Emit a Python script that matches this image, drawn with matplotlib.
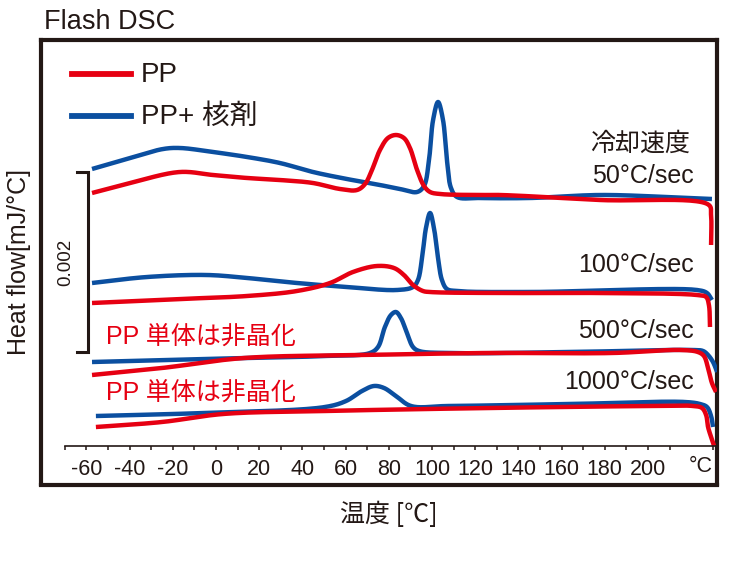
import numpy as np
import matplotlib
matplotlib.use("Agg")
import matplotlib.pyplot as plt
from matplotlib.lines import Line2D

plt.rcParams['font.family'] = ['Liberation Sans', 'Noto Sans CJK JP', 'DejaVu Sans']

RED = '#e60012'
BLUE = '#0b4fa0'
INK = '#231815'

# ---------------- data (temperature °C, signal position; larger value = lower on chart) -------------
b50_t = [-57.4, -39.8, -24.5, -16.7, -1.4, 14.4, 29.6, 44.9, 60.6, 75.9, 85.2, 93.1, 96.3, 98.6,
         100.5, 102.8, 105.1, 106.9, 108.8, 111.6, 122.2, 145.4, 177.8, 208.8, 229.6]
b50_y = [169, 158, 149, 148, 152, 157, 163, 172, 179, 185, 189, 192, 186, 160,
         120, 102, 120, 160, 188, 197, 198, 198, 195, 197, 199]
r50_t = [-57.4, -39.8, -16.7, -1.4, 14.4, 29.6, 44.9, 57.4, 65.3, 69.0, 72.2, 75.9, 79.6, 83.3,
         87.0, 89.8, 93.1, 96.3, 99.1, 103.7, 122.2, 131.5, 177.8, 228.2, 229.2, 229.2]
r50_y = [193, 183, 172, 175, 178, 180, 183, 189, 190, 184, 170, 150, 138, 135,
         138, 148, 170, 186, 192, 194, 195, 195, 200, 205, 215, 245]

b100_t = [-57.4, -31.9, -4.2, 14.4, 37.5, 60.6, 83.8, 91.2, 93.5, 95.4, 97.2, 99.1, 100.9, 102.8,
          104.6, 106.9, 111.6, 145.4, 222.7, 227.3, 229.6]
b100_y = [283, 277, 275, 278, 283, 287, 290, 287, 280, 258, 228, 213, 228, 258,
          280, 289, 291, 292, 290, 293, 300]
r100_t = [-57.4, -16.7, 14.4, 37.5, 52.8, 63.4, 74.5, 82.4, 87.0, 91.2, 95.8, 99.1, 130.1, 176.4,
          222.7, 226.9, 228.2, 228.7]
r100_y = [303, 299, 296, 291, 283, 272, 266, 268, 275, 285, 291, 292, 293, 293,
          295, 297, 305, 327]

b500_t = [-57.4, -6.0, 50.5, 71.3, 75.0, 78.2, 81.0, 83.3, 85.6, 88.4, 91.2, 94.0, 107.4, 164.4,
          220.8, 225.5, 227.8, 230.1, 232.0]
b500_y = [362, 359, 356, 353, 347, 327, 315, 312, 318, 333, 347, 351, 353, 352,
          350, 351, 355, 362, 372]
r500_t = [-57.4, -25.0, 13.0, 69.4, 126.4, 183.3, 215.3, 223.1, 225.9, 227.8, 229.6, 231.5]
r500_y = [375, 368, 358, 355, 353, 353, 350, 352, 356, 368, 383, 392]

b1000_t = [-55.6, -6.0, 50.5, 60.2, 67.6, 73.1, 77.8, 83.3, 90.3, 107.4, 164.4, 217.1, 224.1,
           227.3, 229.2, 230.1]
b1000_y = [416, 413, 407, 401, 391, 386, 388, 396, 406, 406, 404, 402, 404, 407, 416, 427]
r1000_t = [-55.6, -25.0, 3.2, 50.5, 126.4, 202.3, 220.8, 225.0, 226.9, 227.8, 229.2, 230.6]
r1000_y = [427, 422, 414, 411, 408, 406, 406, 408, 415, 427, 437, 446]

major_ticks = [-60, -40, -20, 0, 20, 40, 60, 80, 100, 120, 140, 160, 180, 200]
minor_ticks = [-70, -50, -30, -10, 10, 30, 50, 70, 90, 110, 130, 150, 170, 190, 210, 230]

rate_labels = ['50°C/sec', '100°C/sec', '500°C/sec', '1000°C/sec']
scale_value = '0.002'
scale_span = (172, 352)   # signal positions covered by 0.002 mJ/°C

# ---------------- helpers ----------------
XS = 2.16  # px per °C, used only for smoothing parametrisation


def smooth(t, y, n=30):
    """Centripetal Catmull-Rom through the read points."""
    P = np.column_stack([np.asarray(t, float) * XS, np.asarray(y, float)])
    P = np.vstack([2 * P[0] - P[1], P, 2 * P[-1] - P[-2]])
    out = []
    for i in range(1, len(P) - 2):
        p0, p1, p2, p3 = P[i - 1], P[i], P[i + 1], P[i + 2]
        def tj(ti, a, b):
            d = np.hypot(*(b - a))
            return ti + max(d, 1e-6) ** 0.5
        t0 = 0.0
        t1 = tj(t0, p0, p1)
        t2 = tj(t1, p1, p2)
        t3 = tj(t2, p2, p3)
        tt = np.linspace(t1, t2, n)[:, None]
        A1 = (t1 - tt) / (t1 - t0) * p0 + (tt - t0) / (t1 - t0) * p1
        A2 = (t2 - tt) / (t2 - t1) * p1 + (tt - t1) / (t2 - t1) * p2
        A3 = (t3 - tt) / (t3 - t2) * p2 + (tt - t2) / (t3 - t2) * p3
        B1 = (t2 - tt) / (t2 - t0) * A1 + (tt - t0) / (t2 - t0) * A2
        B2 = (t3 - tt) / (t3 - t1) * A2 + (tt - t1) / (t3 - t1) * A3
        C = (t2 - tt) / (t2 - t1) * B1 + (tt - t1) / (t2 - t1) * B2
        out.append(C if i == 1 else C[1:])
    C = np.vstack(out)
    return C[:, 0] / XS, C[:, 1]


W, H = 729, 570
fig = plt.figure(figsize=(W / 100, H / 100), dpi=100)


def fx(px):
    return px / W


def fy(py):
    return 1 - py / H


L, R, T, B = 41, 717, 40, 484.5
ax = fig.add_axes([fx(L), fy(B), fx(R) - fx(L), fy(T) - fy(B)])
ax.set_xlim((L - 216) / XS, (R - 216) / XS)
ax.set_ylim(B, T)
ax.set_xticks([])
ax.set_yticks([])
for s in ax.spines.values():
    s.set_linewidth(3.0)
    s.set_color(INK)

lw = 3.2
for tb, yb, tr, yr in [(b50_t, b50_y, r50_t, r50_y), (b100_t, b100_y, r100_t, r100_y),
                       (b500_t, b500_y, r500_t, r500_y), (b1000_t, b1000_y, r1000_t, r1000_y)]:
    x, y = smooth(tb, yb)
    ax.plot(x, y, color=BLUE, lw=lw, solid_capstyle='butt', zorder=3)
    x, y = smooth(tr, yr)
    ax.plot(x, y, color=RED, lw=lw, solid_capstyle='butt', zorder=4)

# scale bar
sb_x = (88 - 216) / XS
sb_x0 = (77 - 216) / XS
ax.plot([sb_x0, sb_x, sb_x, sb_x0], [scale_span[0], scale_span[0], scale_span[1], scale_span[1]],
        color=INK, lw=2.2, solid_joinstyle='miter', zorder=5, clip_on=False)
ax.text((66 - 216) / XS, (scale_span[0] + scale_span[1]) / 2, scale_value, rotation=90,
        ha='center', va='center', fontsize=13.5, color=INK)

# inner temperature axis
ax2 = fig.add_axes([fx(L), fy(446), fx(R) - fx(L), 0.01])
ax2.set_xlim(ax.get_xlim())
ax2.patch.set_visible(False)
for k in ['top', 'left', 'right']:
    ax2.spines[k].set_visible(False)
ax2.spines['bottom'].set_bounds(-70, (R - 216) / XS)
ax2.spines['bottom'].set_linewidth(1.2)
ax2.spines['bottom'].set_color(INK)
ax2.set_yticks([])
ax2.set_xticks(major_ticks)
ax2.set_xticklabels([str(v) for v in major_ticks])
ax2.set_xticks(minor_ticks, minor=True)
ax2.tick_params(axis='x', which='both', direction='out', length=3.2, width=1.1, color=INK,
                labelsize=15.5, pad=6.5, labelcolor=INK)
fig.text(fx(701), fy(467), '°C', ha='center', va='center', fontsize=15.5, color=INK)

# legend
fig.add_artist(Line2D([fx(72), fx(131)], [fy(74), fy(74)], color=RED, lw=4.2))
fig.add_artist(Line2D([fx(72), fx(131)], [fy(116), fy(116)], color=BLUE, lw=4.2))
fig.text(fx(141), fy(75), 'PP', fontsize=20, va='center', ha='left', color=INK)
fig.text(fx(141), fy(117), 'PP+ 核剤', fontsize=20, va='center', ha='left', color=INK)

# annotations
fig.text(fx(640), fy(144), '冷却速度', fontsize=18, ha='center', va='center', color=INK)
fig.text(fx(694), fy(176), rate_labels[0], fontsize=18, ha='right', va='center', color=INK)
fig.text(fx(694), fy(265), rate_labels[1], fontsize=18, ha='right', va='center', color=INK)
fig.text(fx(694), fy(331), rate_labels[2], fontsize=18, ha='right', va='center', color=INK)
fig.text(fx(694), fy(382), rate_labels[3], fontsize=18, ha='right', va='center', color=INK)
fig.text(fx(106), fy(337), 'PP 単体は非晶化', fontsize=18, ha='left', va='center', color=RED)
fig.text(fx(106), fy(393), 'PP 単体は非晶化', fontsize=18, ha='left', va='center', color=RED)

fig.text(fx(44), fy(22), 'Flash DSC', fontsize=19.5, ha='left', va='center', color=INK)
fig.text(fx(19), fy(262), 'Heat flow[mJ/°C]', fontsize=18, rotation=90, ha='center', va='center',
         color=INK)
fig.text(fx(389), fy(515), '温度 [℃]', fontsize=18, ha='center', va='center', color=INK,
         family=['Noto Sans CJK JP', 'DejaVu Sans'])

fig.savefig('out.png', dpi=100)
